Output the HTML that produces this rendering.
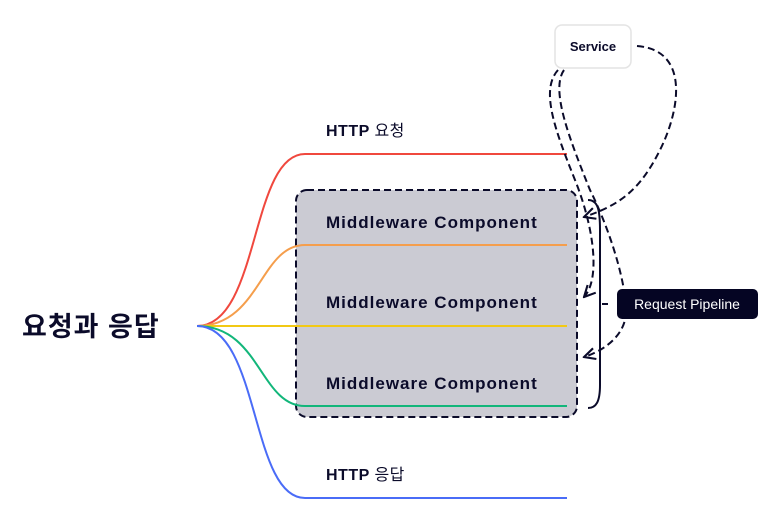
<!DOCTYPE html>
<html><head><meta charset="utf-8"><style>
body{margin:0;background:#fff;width:767px;height:517px;overflow:hidden}
svg text{font-family:"Liberation Sans","Noto Sans CJK KR",sans-serif}
</style></head><body>
<svg width="767" height="517" viewBox="0 0 767 517" xmlns="http://www.w3.org/2000/svg">
<defs><marker id="a" viewBox="0 0 10 10" refX="9" refY="5" markerWidth="7" markerHeight="7" orient="auto" markerUnits="strokeWidth"><path d="M1,1 L9,5 L1,9" fill="none" stroke="#0b0b2a" stroke-width="1.5"/></marker></defs>
<rect x="296" y="190" width="281" height="227" rx="11" fill="#cbcbd3" stroke="#0b0b2a" stroke-width="2" stroke-dasharray="7,4"/>
<g fill="none" stroke-width="2">
<path d="M197,326 C260,326 250,154 305,154 L567,154" stroke="#f0483e"/>
<path d="M197,326 C260,326 260,245 305,245 L567,245" stroke="#f59e4c"/>
<path d="M197,326 L567,326" stroke="#f2c914"/>
<path d="M197,326 C260,326 260,406 305,406 L567,406" stroke="#12b67a"/>
<path d="M197,326 C260,326 250,498 305,498 L567,498" stroke="#4a6cf7"/>
</g>
<g fill="#0b0b2a" font-size="17" font-weight="bold" letter-spacing="1">
<text x="326" y="228">Middleware Component</text>
<text x="326" y="308">Middleware Component</text>
<text x="326" y="389">Middleware Component</text>
</g>
<text x="326" y="136" font-size="16" font-weight="bold" fill="#0b0b2a" letter-spacing="0.5">HTTP <tspan font-weight="normal">요청</tspan></text>
<text x="326" y="480" font-size="16" font-weight="bold" fill="#0b0b2a" letter-spacing="0.5">HTTP <tspan font-weight="normal">응답</tspan></text>
<text x="22" y="336" font-size="27" font-weight="bold" fill="#0b0b2a" letter-spacing="1">요청과 응답</text>
<rect x="555" y="25" width="76" height="43" rx="7" fill="#fff" stroke="#e4e4e4" stroke-width="1.5"/>
<text x="593" y="51" font-size="13" font-weight="bold" fill="#0b0b2a" text-anchor="middle">Service</text>
<g fill="none" stroke="#0b0b2a" stroke-width="2" stroke-dasharray="7,4">
<path d="M637,46 C690,50 680,110 660,150 C640,190 620,205 584,217" marker-end="url(#a)"/>
<path d="M558,70 C540,90 555,130 575,180 C595,230 600,280 584,297" marker-end="url(#a)"/>
<path d="M564,70 C550,90 570,140 590,190 C615,240 630,300 625,320 C620,340 600,352 584,357" marker-end="url(#a)"/>
</g>
<path d="M588,200 C598,200 600,210 600,230 L600,385 C600,402 596,408 588,408" fill="none" stroke="#0b0b2a" stroke-width="2"/>
<path d="M602,304 L608,304" stroke="#0b0b2a" stroke-width="2"/>
<rect x="617" y="289" width="141" height="30" rx="5" fill="#050523"/>
<text x="687" y="309" font-size="14" fill="#fff" text-anchor="middle">Request Pipeline</text>
</svg>
</body></html>
